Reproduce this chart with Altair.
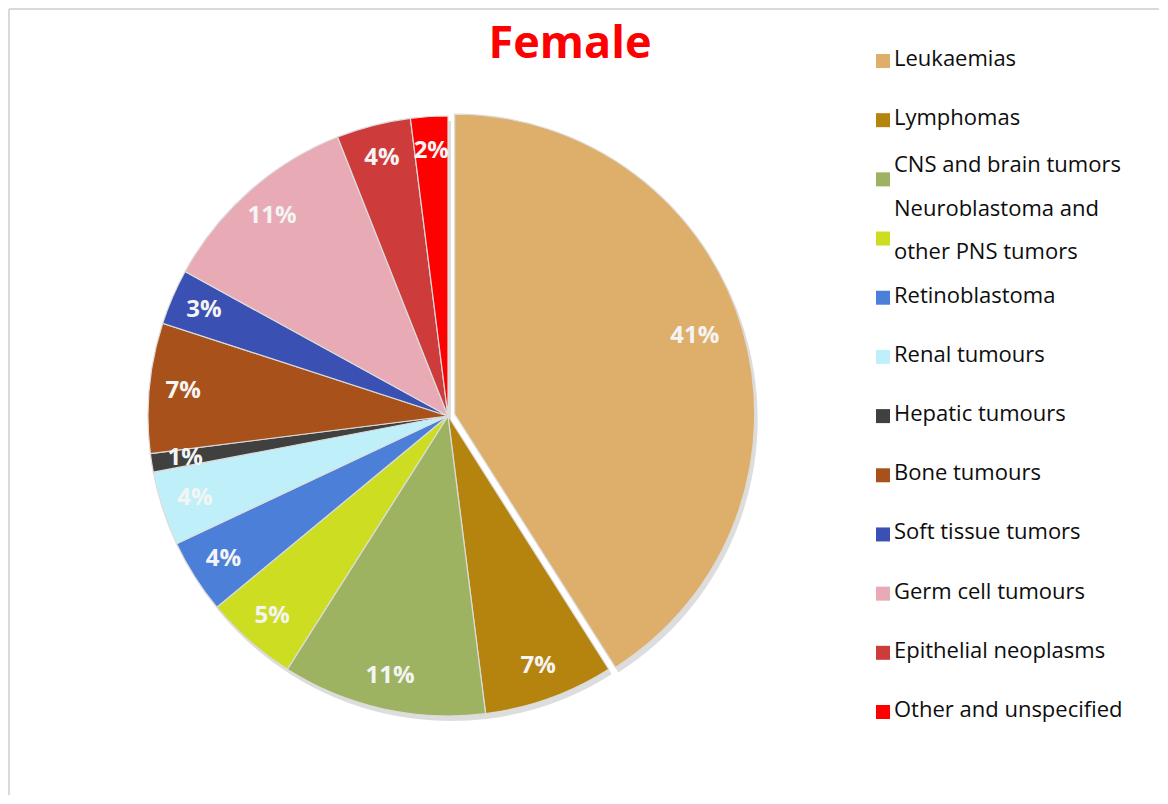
import altair as alt
import pandas as pd

# ---- data ----
categories = [
    "Leukaemias", "Lymphomas", "CNS and brain tumors",
    "Neuroblastoma and other PNS tumors", "Retinoblastoma", "Renal tumours",
    "Hepatic tumours", "Bone tumours", "Soft tissue tumors",
    "Germ cell tumours", "Epithelial neoplasms", "Other and unspecified",
]
values = [41, 7, 11, 5, 4, 4, 1, 7, 3, 11, 4, 2]
legend_labels = [
    "Leukaemias", "Lymphomas", "CNS and brain tumors",
    "Neuroblastoma and\nother PNS tumors", "Retinoblastoma", "Renal tumours",
    "Hepatic tumours", "Bone tumours", "Soft tissue tumors",
    "Germ cell tumours", "Epithelial neoplasms", "Other and unspecified",
]
colors = [
    "#DDAF6A", "#B4840F", "#9EB361", "#CCDD22", "#4C80D8", "#BFF0FA",
    "#404040", "#A9511A", "#3A50B2", "#E8AAB5", "#CD3B3B", "#FF0000",
]
title_text = "Female"

df = pd.DataFrame({
    "category": categories,
    "value": values,
    "idx": list(range(len(categories))),
    "label": legend_labels,
})

# ---- layout constants (view coordinates) ----
CX, CY, R = 439, 407, 300
EX, EY = 6.7, -1.9          # explode offset of first slice
LABEL_R = 266
FONT = "Open Sans"
LEG_FS = 22

exploded = f"datum.category == '{categories[0]}'"

base = alt.Chart(df).transform_calculate(pct="datum.value + '%'")

theta = alt.Theta("value:Q", stack=True)
order = alt.Order("idx:Q", sort="ascending")
color = alt.Color("category:N", scale=alt.Scale(domain=categories, range=colors), legend=None)


def show(on_exploded, level=1):
    return alt.condition(exploded, alt.value(level if on_exploded else 0),
                         alt.value(0 if on_exploded else level))


def arcs(dx, dy, on_exploded, shadow=False):
    if shadow:
        m = base.mark_arc(outerRadius=R, color="#555555")
        enc = dict(theta=theta, order=order, opacity=show(on_exploded, 0.2))
    else:
        m = base.mark_arc(outerRadius=R, stroke="#dcdcdc", strokeWidth=1.2)
        enc = dict(theta=theta, order=order, color=color, opacity=show(on_exploded))
    return m.encode(x=alt.value(CX + dx), y=alt.value(CY + dy), **enc)


shadow_main = arcs(3, 5, False, shadow=True)
shadow_expl = arcs(EX + 3, EY + 5, True, shadow=True)
pie_main = arcs(0, 0, False)
pie_expl = arcs(EX, EY, True)

lab_kw = dict(font=FONT, fontSize=24, fontWeight="bold", color="#F4F4F4",
              align="center", baseline="middle")
labels_main = base.mark_text(radius=LABEL_R, **lab_kw).encode(
    theta=theta, order=order, text="pct:N", opacity=show(False),
    x=alt.value(CX), y=alt.value(CY))
labels_expl = base.mark_text(radius=250, **lab_kw).encode(
    theta=theta, order=order, text="pct:N", opacity=show(True),
    x=alt.value(CX + EX), y=alt.value(CY + EY - 8))

# ---- manual legend ----
ypos = alt.Y("category:N", axis=None,
             scale=alt.Scale(type="point", domain=categories, range=[52, 703], padding=0))

legend_sym = alt.Chart(df).mark_point(shape="square", filled=True, size=196, opacity=1).encode(
    x=alt.value(874), y=ypos, color=color,
)

single_cond = f"datum.category != '{categories[2]}' && datum.category != '{categories[3]}'"
txt_kw = dict(align="left", baseline="middle", font=FONT, fontSize=LEG_FS, color="#0D0D0D")
legend_txt = alt.Chart(df).transform_filter(single_cond).mark_text(dy=-2, **txt_kw).encode(
    x=alt.value(885), y=ypos, text="label:N")

legend_cns = alt.Chart(df).transform_filter(f"datum.category == '{categories[2]}'").mark_text(
    dy=-14, **txt_kw).encode(x=alt.value(885), y=ypos, text="label:N")

legend_neuro = alt.Chart(df).transform_filter(f"datum.category == '{categories[3]}'").mark_text(
    dy=-30, lineBreak="\n", lineHeight=43, **txt_kw,
).encode(x=alt.value(885), y=ypos, text="label:N")

# ---- title ----
title = alt.Chart(pd.DataFrame({"t": [title_text]})).mark_text(
    font=FONT, fontSize=45, fontWeight="bold", color="#FF0000",
    align="center", baseline="middle",
).encode(x=alt.value(561), y=alt.value(35), text="t:N")

# ---- frame lines (top & left) ----
frame_top = alt.Chart(pd.DataFrame({"a": [0]})).mark_rule(color="#D9D9D9", strokeWidth=2).encode(
    x=alt.value(0), x2=alt.value(1150), y=alt.value(0))
frame_left = alt.Chart(pd.DataFrame({"a": [0]})).mark_rule(color="#D9D9D9", strokeWidth=2).encode(
    x=alt.value(0), y=alt.value(0), y2=alt.value(786))

chart = alt.layer(
    frame_top, frame_left,
    shadow_main, shadow_expl, pie_main, pie_expl, labels_main, labels_expl,
    legend_sym, legend_txt, legend_cns, legend_neuro, title,
).properties(
    width=1150, height=786, padding=0, background="white",
).configure_view(stroke=None)

chart.save("out.html", embed_options={"renderer": "svg", "actions": False})
